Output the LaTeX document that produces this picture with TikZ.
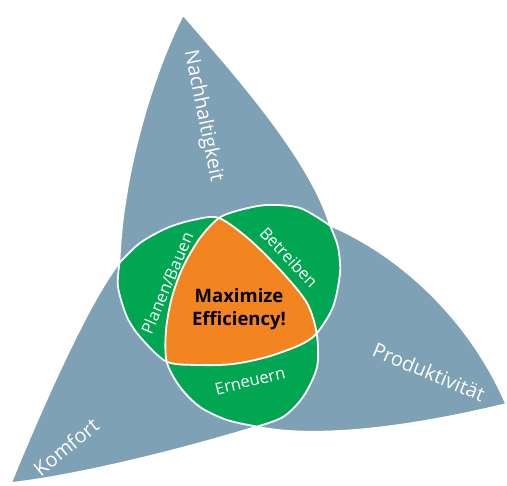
\documentclass[tikz,border=0pt]{standalone}
\usepackage{fontspec}
\setmainfont{Open Sans}
\definecolor{bladegray}{RGB}{127,161,182}
\definecolor{lobegreen}{RGB}{0,166,81}
\definecolor{coreorange}{RGB}{243,133,33}
\begin{document}
\begin{tikzpicture}[x=1pt,y=-1pt,
  bladefill/.style={fill=bladegray},
  bladeedge/.style={draw=white,line width=1.6pt,line join=round},
  ring/.style={draw=white,line width=1.8pt,line join=round},
  bladelabel/.style={text=white,font=\fontsize{20}{24}\selectfont,inner sep=0pt},
  lobelabel/.style={text=white,font=\fontsize{16.5}{20}\selectfont,inner sep=0pt},
  corelabel/.style={text=black,font=\fontsize{18.5}{22.5}\selectfont\bfseries,align=center,inner sep=0pt}]
\useasboundingbox (0,0) rectangle (507,486);
% centre of the figure
\coordinate (O) at (235.5,305);
% outer corners of the three-way overlap figure
\coordinate (P1) at (119.5,262.8);
\coordinate (P2) at (330.1,225.6);
\coordinate (P3) at (256.9,426.6);
% inner corners (corners of the central region)
\coordinate (X) at (219,218);
\coordinate (Y) at (166.7,361.7);
\coordinate (Z) at (316.7,333.3);
% blade tips
\coordinate (T1) at (183,15);
\coordinate (T2) at (506,404);
\coordinate (T3) at (11,483);
% the three ring curves, each running through two inner corners
\def\curveA{plot[smooth] coordinates {(P1) (118,287) (127,317) (141,338) (Y)
  (200,365) (233,364) (267,357) (300,345) (Z) (333,307) (340,273) (338,247) (P2)}}
\def\curveB{plot[smooth] coordinates {(P2) (300,208) (267,205) (240,210) (X)
  (200,238) (183,267) (172,297) (166,330) (Y) (180,387) (200,407) (227,420) (P3)}}
\def\curveC{plot[smooth] coordinates {(P1) (140,243) (167,228) (193,220) (X)
  (250,240) (283,273) (307,303) (Z) (317,367) (303,397) (283,417) (P3)}}
% closed rings: each curve closed round its own outer side
\def\ringA{\curveA .. controls (345,120) and (120,120) .. (P1) -- cycle}
\def\ringB{\curveB .. controls (350,460) and (480,300) .. (P2) -- cycle}
\def\ringC{\curveC .. controls (150,480) and (40,330) .. (P1) -- cycle}
% three blades
\fill[bladefill] (P1) .. controls (122,180) and (150,80) .. (T1)
  .. controls (240,80) and (310,160) .. (P2) -- (O) -- cycle;
\draw[bladeedge] (P1) .. controls (122,180) and (150,80) .. (T1)
  .. controls (240,80) and (310,160) .. (P2);
\fill[bladefill] (P2) .. controls (400,255) and (470,320) .. (T2)
  .. controls (420,425) and (320,440) .. (P3) -- (O) -- cycle;
\draw[bladeedge] (P2) .. controls (400,255) and (470,320) .. (T2)
  .. controls (420,425) and (320,440) .. (P3);
\fill[bladefill] (P3) .. controls (180,450) and (80,475) .. (T3)
  .. controls (45,400) and (90,300) .. (P1) -- (O) -- cycle;
\draw[bladeedge] (P3) .. controls (180,450) and (80,475) .. (T3)
  .. controls (45,400) and (90,300) .. (P1);
% pairwise overlaps in green
\begin{scope}
  \clip \ringA;
  \fill[lobegreen] \ringB;
  \fill[lobegreen] \ringC;
\end{scope}
\begin{scope}
  \clip \ringB;
  \fill[lobegreen] \ringC;
\end{scope}
% central overlap in orange
\begin{scope}
  \clip \ringA;
  \clip \ringB;
  \fill[coreorange] \ringC;
\end{scope}
% white ring lines
\draw[ring] \curveA;
\draw[ring] \curveB;
\draw[ring] \curveC;
% labels
\node[bladelabel,rotate=-78.5] (nach) at (203,116) {Nachhaltigkeit};
\node[bladelabel,rotate=-22.7] (prod) at (429,372) {Produktivität};
\node[bladelabel,rotate=39.2] (komf) at (66,447) {Komfort};
\node[lobelabel,rotate=67] (plan) at (167,283) {Planen/Bauen};
\node[lobelabel,rotate=-46.5] (betr) at (289,257) {Betreiben};
\node[lobelabel,rotate=13.7] (ern) at (250,381) {Erneuern};
\node[corelabel] (core) at (239,309) {Maximize\\Efficiency!};
\end{tikzpicture}
\end{document}
